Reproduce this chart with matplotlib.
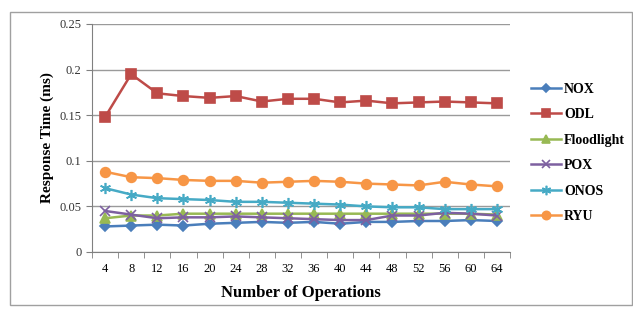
import matplotlib
matplotlib.use("Agg")
import matplotlib.pyplot as plt
from matplotlib.patches import Rectangle
import numpy as np

plt.rcParams['font.family'] = ['Liberation Serif', 'DejaVu Serif']

operations = [4, 8, 12, 16, 20, 24, 28, 32, 36, 40, 44, 48, 52, 56, 60, 64]
nox = [0.028, 0.029, 0.030, 0.029, 0.031, 0.032, 0.033, 0.032, 0.033, 0.031, 0.033, 0.033, 0.034, 0.034, 0.035, 0.034]
odl = [0.148, 0.195, 0.174, 0.171, 0.169, 0.171, 0.165, 0.168, 0.168, 0.164, 0.166, 0.163, 0.164, 0.165, 0.164, 0.163]
floodlight = [0.037, 0.040, 0.040, 0.042, 0.042, 0.042, 0.042, 0.042, 0.042, 0.042, 0.042, 0.042, 0.042, 0.042, 0.042, 0.041]
pox = [0.045, 0.041, 0.037, 0.038, 0.038, 0.039, 0.038, 0.037, 0.036, 0.035, 0.035, 0.040, 0.040, 0.043, 0.042, 0.040]
onos = [0.070, 0.063, 0.059, 0.058, 0.057, 0.055, 0.055, 0.054, 0.053, 0.052, 0.050, 0.049, 0.049, 0.047, 0.047, 0.047]
ryu = [0.088, 0.082, 0.081, 0.079, 0.078, 0.078, 0.076, 0.077, 0.078, 0.077, 0.075, 0.074, 0.073, 0.077, 0.074, 0.072]

series = [
    ("NOX", nox, "#4a7ebb", "D", 5),
    ("ODL", odl, "#be4b48", "s", 7),
    ("Floodlight", floodlight, "#98b954", "^", 7),
    ("POX", pox, "#7d60a0", "x", 7),
    ("ONOS", onos, "#46aac5", (6, 2, 0), 8),
    ("RYU", ryu, "#f79646", "o", 7),
]

fig = plt.figure(figsize=(6.33, 3.09), dpi=100)
fig.patches.append(Rectangle((10/633, 1-305/309), 622/633, 293/309, transform=fig.transFigure,
                             fill=False, edgecolor="#a0a0a0", linewidth=1.0))
ax = fig.add_axes([92/633, 1-252/309, 418/633, 228/309])

x = np.arange(len(operations))
for name, vals, color, marker, ms in series:
    ax.plot(x, vals, color=color, marker=marker, markersize=ms, linewidth=1.8,
            markeredgewidth=1.2, label=name)

ax.set_xlim(-0.5, len(operations) - 0.5)
ax.set_ylim(0, 0.25)
ax.set_yticks([0, 0.05, 0.1, 0.15, 0.2, 0.25])
ax.set_yticklabels(["0", "0.05", "0.1", "0.15", "0.2", "0.25"])
ax.set_xticks(x)
ax.set_xticklabels([str(v) for v in operations])
ax.set_xticks(np.arange(-0.5, len(operations), 1), minor=True)
ax.tick_params(axis='x', which='major', length=0, labelsize=9, pad=8)
ax.tick_params(axis='x', which='minor', length=4, color="#808080", direction='out')
ax.tick_params(axis='y', length=4, color="#808080", labelsize=9, labelcolor="#333333")
ax.grid(axis='y', color="#9a9a9a", linewidth=1.0)
ax.set_axisbelow(True)
for s in ["top", "right"]:
    ax.spines[s].set_visible(False)
for s in ["left", "bottom"]:
    ax.spines[s].set_color("#808080")

ax.set_ylabel("Response Time (ms)", fontsize=11, fontweight='bold')
ax.set_xlabel("Number of Operations", fontsize=12, fontweight='bold', labelpad=7)

leg = ax.legend(loc='center left', bbox_to_anchor=(1.02, 0.435), frameon=False,
                prop={'weight': 'bold', 'size': 10}, handlelength=2.2,
                handletextpad=0.2, labelspacing=0.9, markerscale=0.85)

fig.savefig("out.png", dpi=100)
